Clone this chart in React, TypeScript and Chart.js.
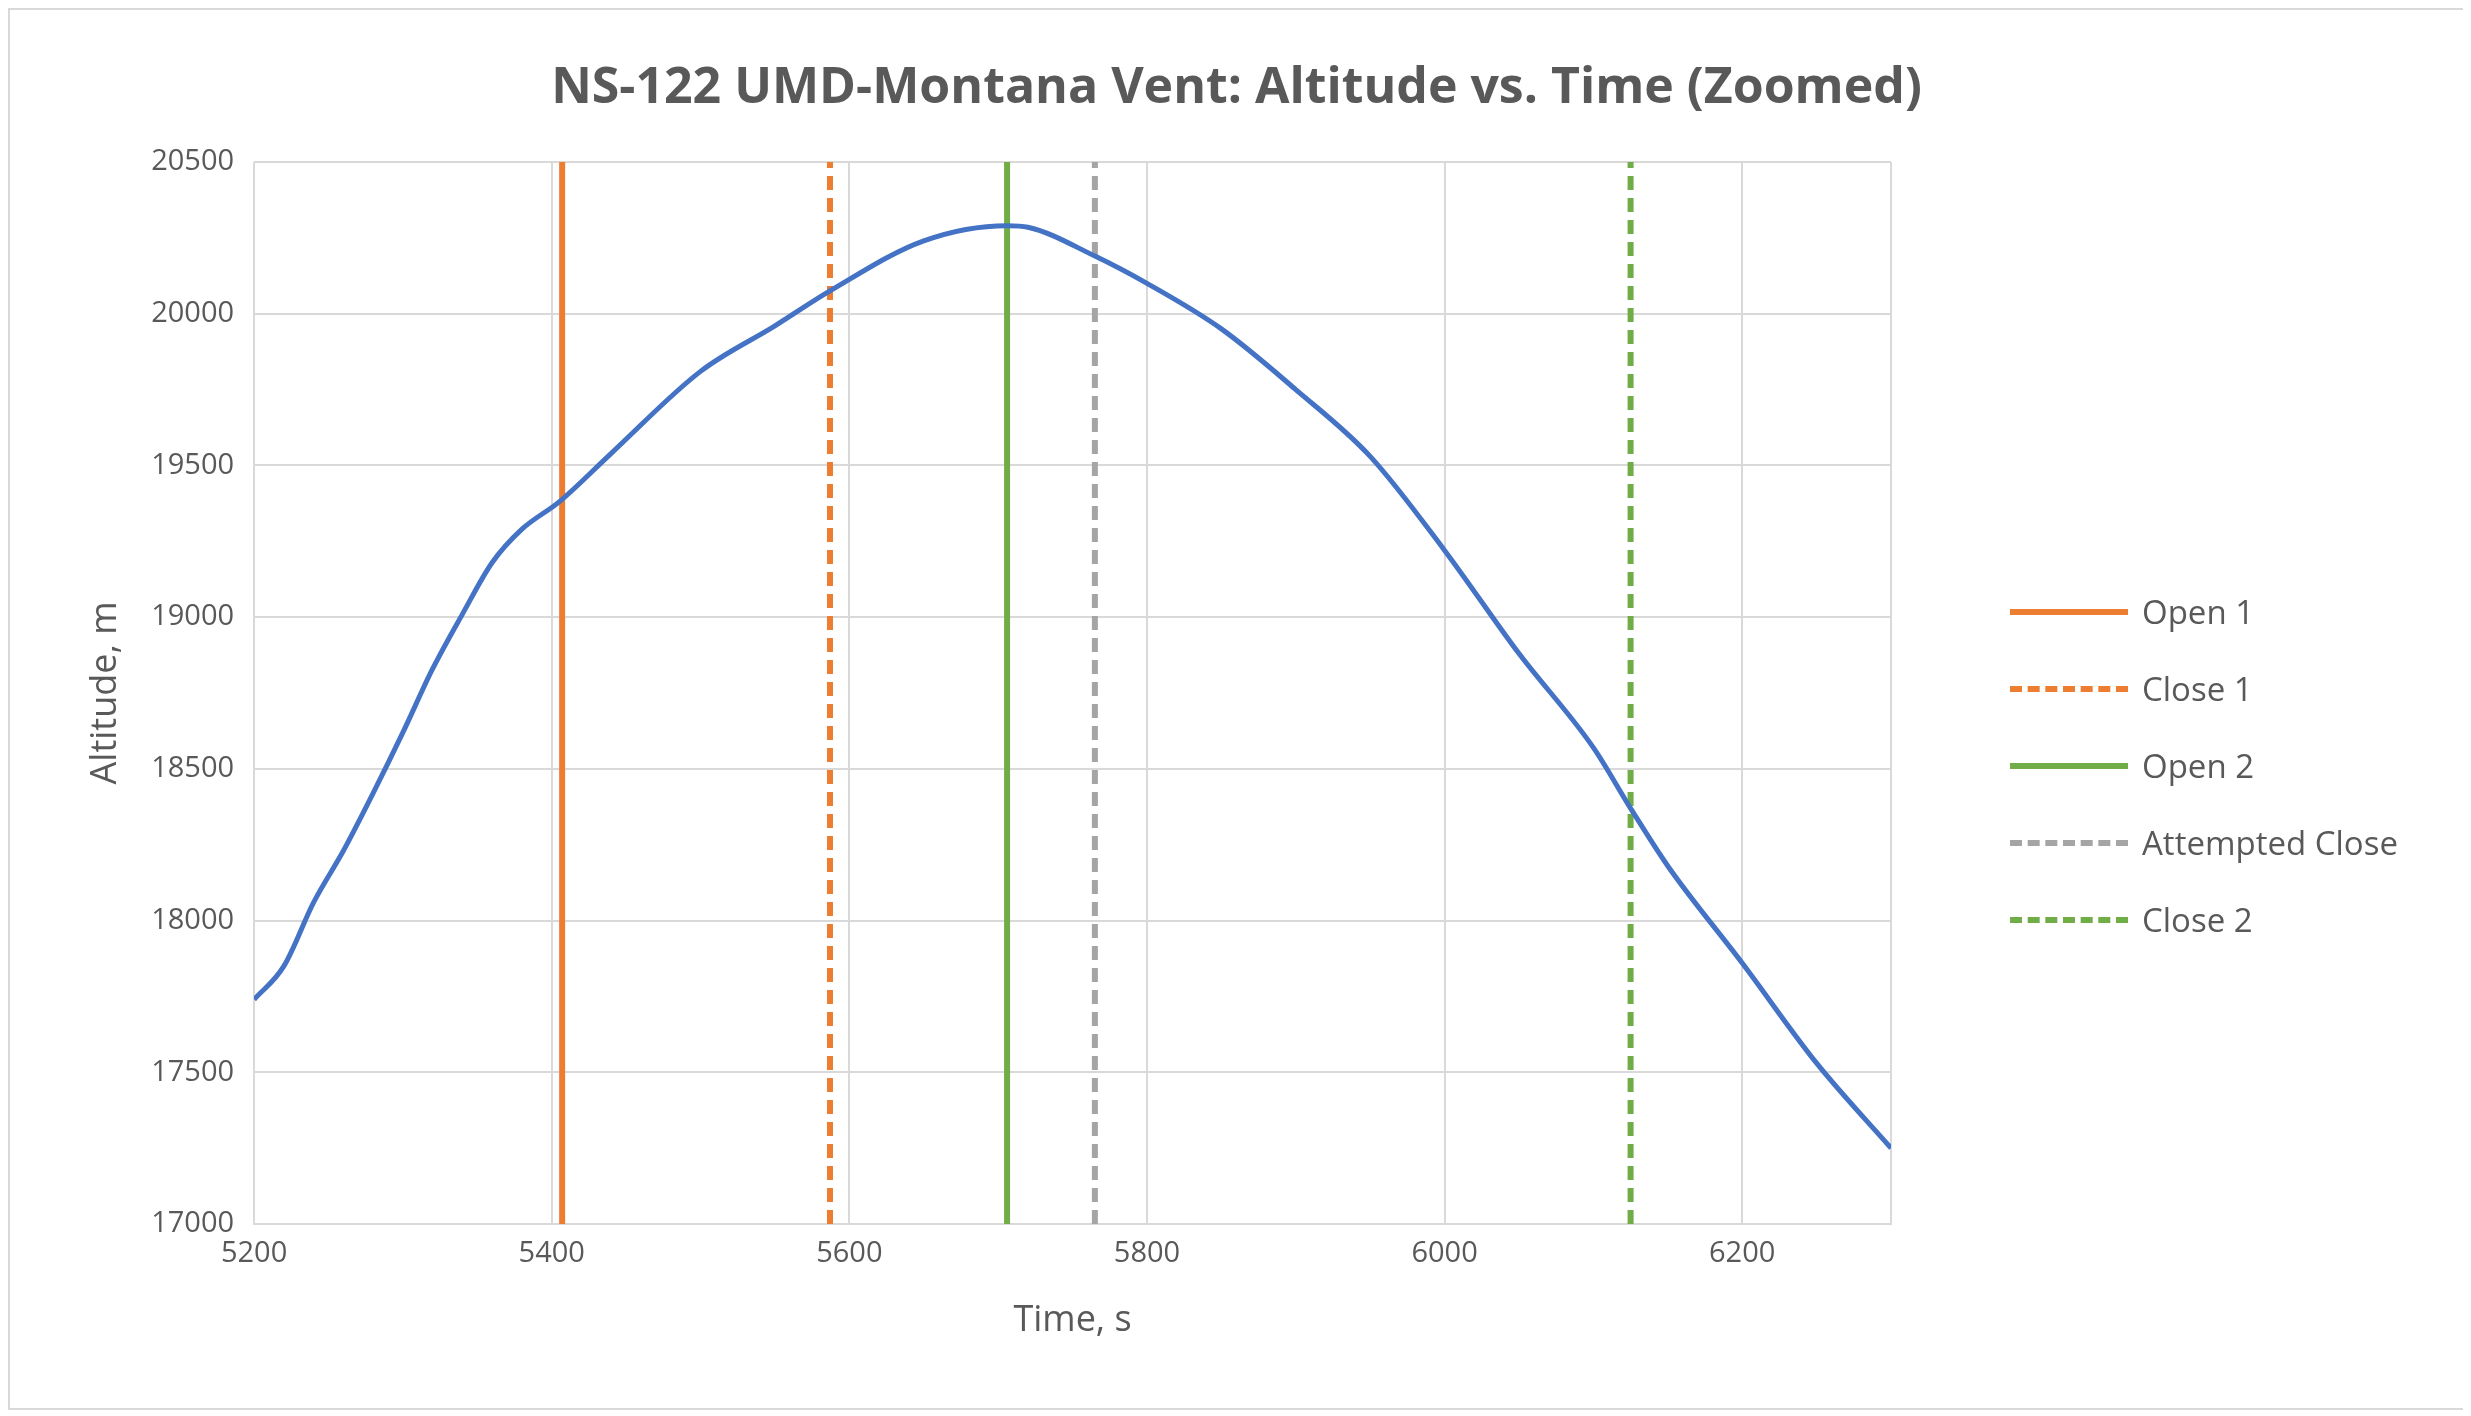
import { useEffect, useRef } from "react";
import { Chart, registerables } from "chart.js";

Chart.register(...registerables);

const times = [5200, 5220, 5240, 5260, 5280, 5300, 5320, 5340, 5360, 5380, 5405, 5440, 5500, 5550, 5587, 5650, 5706, 5720, 5765, 5800, 5850, 5900, 5950, 6000, 6050, 6100, 6125, 6150, 6200, 6250, 6300];
const altitudes = [17740, 17850, 18060, 18230, 18420, 18620, 18830, 19010, 19180, 19290, 19380, 19540, 19810, 19960, 20075, 20240, 20290, 20285, 20190, 20100, 19950, 19750, 19530, 19220, 18880, 18570, 18370, 18180, 17860, 17530, 17250];

const eventNames = ["Open 1", "Close 1", "Open 2", "Attempted Close", "Close 2"];
const eventTimes = [5407, 5587, 5706, 5765, 6125];
const eventColors = ["#ed7d31", "#ed7d31", "#70ad47", "#a5a5a5", "#70ad47"];
const eventDashed = [false, true, false, true, true];

const FONT = "'Open Sans', 'Liberation Sans', sans-serif";
const TEXT = "#595959";

export default function App() {
  const canvasRef = useRef<HTMLCanvasElement | null>(null);

  useEffect(() => {
    if (!canvasRef.current) return;
    const eventSets = eventNames.map((name, i) => ({
      label: name,
      data: [
        { x: eventTimes[i], y: 17000 },
        { x: eventTimes[i], y: 20500 },
      ],
      borderColor: eventColors[i],
      borderWidth: 6,
      borderDash: eventDashed[i] ? [14, 8] : [],
      pointRadius: 0,
    }));
    const chart = new Chart(canvasRef.current, {
      type: "line",
      data: {
        datasets: [
          {
            label: "Altitude",
            data: times.map((t, i) => ({ x: t, y: altitudes[i] })),
            borderColor: "#4472c4",
            borderWidth: 5,
            pointRadius: 0,
            cubicInterpolationMode: "monotone",
          },
          ...eventSets,
        ],
      },
      options: {
        responsive: true,
        maintainAspectRatio: false,
        animation: false,
        layout: { padding: { left: 70, right: 572, top: 152, bottom: 62 } },
        plugins: {
          legend: { display: false },
          tooltip: { enabled: false },
        },
        scales: {
          x: {
            type: "linear",
            min: 5200,
            max: 6300,
            ticks: {
              stepSize: 200,
              color: TEXT,
              font: { family: FONT, size: 29 },
              padding: 12,
              callback: (v) => (Number(v) === 6300 ? "" : String(v)),
            },
            grid: { color: "#d9d9d9", lineWidth: 2, drawTicks: false },
            border: { color: "#d9d9d9", width: 2 },
            title: { display: true, text: "Time, s", color: TEXT, font: { family: FONT, size: 36 }, padding: { top: 16 } },
          },
          y: {
            min: 17000,
            max: 20500,
            ticks: { stepSize: 500, color: TEXT, font: { family: FONT, size: 29 }, padding: 20, callback: (v) => String(v) },
            grid: { color: "#d9d9d9", lineWidth: 2, drawTicks: false },
            border: { display: false },
            title: { display: true, text: "Altitude, m", color: TEXT, font: { family: FONT, size: 36 } },
          },
        },
      },
    });
    return () => chart.destroy();
  }, []);

  return (
    <div style={{ position: "relative", width: 2453, height: 1398, border: "2px solid #d9d9d9", background: "#fff" }}>
      <div
        style={{
          position: "absolute",
          left: 0,
          right: 0,
          top: 40,
          textAlign: "center",
          fontFamily: FONT,
          fontWeight: "bold",
          fontSize: 50,
          color: TEXT,
        }}
      >
        NS-122 UMD-Montana Vent: Altitude vs. Time (Zoomed)
      </div>
      <canvas ref={canvasRef} />
      <div style={{ position: "absolute", left: 2000, top: 563, fontFamily: FONT, color: TEXT, fontSize: 33 }}>
        {eventNames.map((name, i) => (
          <div key={name} style={{ display: "flex", alignItems: "center", height: 77 }}>
            <div
              style={{
                width: 118,
                borderTop: `6px ${eventDashed[i] ? "dashed" : "solid"} ${eventColors[i]}`,
                marginRight: 14,
              }}
            />
            <span>{name}</span>
          </div>
        ))}
      </div>
    </div>
  );
}
